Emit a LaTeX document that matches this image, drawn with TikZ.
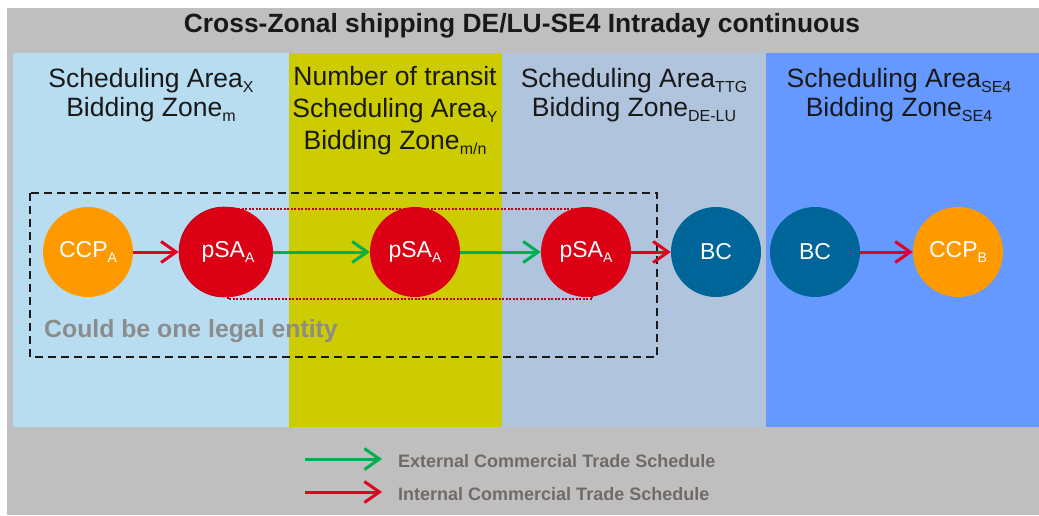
\documentclass[tikz,border=0pt]{standalone}
\usepackage{fontspec}
\setmainfont{Liberation Sans}
\usetikzlibrary{arrows.meta}
\definecolor{bggray}{RGB}{191,191,191}
\definecolor{colA}{RGB}{184,221,240}
\definecolor{colY}{RGB}{204,204,0}
\definecolor{colT}{RGB}{176,196,222}
\definecolor{colS}{RGB}{102,153,255}
\definecolor{corange}{RGB}{255,153,0}
\definecolor{cred}{RGB}{220,0,20}
\definecolor{cdarkred}{RGB}{170,0,15}
\definecolor{cdot}{RGB}{190,0,20}
\definecolor{cbc}{RGB}{0,102,153}
\definecolor{agreen}{RGB}{0,176,80}
\definecolor{ared}{RGB}{224,0,32}
\definecolor{legtext}{RGB}{114,106,102}
\definecolor{titletext}{RGB}{25,25,25}
\newcommand\sbs[1]{\raisebox{-0.22em}{\fontsize{16}{16}\selectfont #1}}
\newcommand\csb[1]{\raisebox{-0.25em}{\fontsize{14}{14}\selectfont #1}}
\tikzset{
  hdr/.style={anchor=base, inner sep=0, text=titletext, font=\fontsize{26.5}{26.5}\selectfont},
  circ/.style={circle, minimum size=90pt, inner sep=0, text=white, font=\fontsize{23}{23}\selectfont},
  ccp/.style={circ, fill=corange},
  psa/.style={circ, fill=cred},
  bc/.style={circ, fill=cbc},
  arr/.style={line width=3pt, -{Straight Barb[length=15pt,width=21pt,line width=3pt]}},
  redarr/.style={arr, draw=ared},
  greenarr/.style={arr, draw=agreen},
  legend/.style={anchor=base west, inner sep=0, text=legtext, font=\bfseries\fontsize{18}{18}\selectfont},
}
\begin{document}
\begin{tikzpicture}[x=1pt,y=-1pt]
\useasboundingbox (0,0) rectangle (1039,515);
\fill[white] (0,0) rectangle (1039,515);
\fill[bggray] (7,8) rectangle (1039,515);
\fill[colA] (13,53) rectangle (289,427);
\fill[colY] (289,53) rectangle (502,427);
\fill[colT] (502,53) rectangle (765,427);
\fill[colS] (766,53) rectangle (1039,427);
% title
\node[anchor=base, inner sep=0, text=titletext, font=\bfseries\fontsize{26.4}{26.4}\selectfont] (title) at (522,32) {Cross-Zonal shipping DE/LU-SE4 Intraday continuous};
% headers
\node[hdr] (h1a) at (151,87) {Scheduling Area\sbs{X}};
\node[hdr] (h1b) at (151,116) {Bidding Zone\sbs{m}};
\node[hdr] (h2a) at (395,85) {Number of transit};
\node[hdr] (h2b) at (395,117) {Scheduling Area\sbs{Y}};
\node[hdr] (h2c) at (395,149) {Bidding Zone\sbs{m/n}};
\node[hdr] (h3a) at (634,87) {Scheduling Area\sbs{TTG}};
\node[hdr] (h3b) at (634,116) {Bidding Zone\sbs{DE-LU}};
\node[hdr] (h4a) at (899,87) {Scheduling Area\sbs{SE4}};
\node[hdr] (h4b) at (899,116) {Bidding Zone\sbs{SE4}};
% group boxes
\draw[black!90, line width=1.5pt, dash pattern=on 8pt off 5pt] (30,193) rectangle (657,357);
\draw[cdot, line width=1.2pt, dash pattern=on 2pt off 1.5pt] (228,209) rectangle (592,299);
\node[anchor=base west, inner sep=0, text=black!45, font=\bfseries\fontsize{24.8}{24.8}\selectfont] (legal) at (44,337) {Could be one legal entity};
% circles
\node[ccp] (ccpa) at (88,252) {CCP\csb{A}};
\node[psa, draw=cdarkred, line width=0.6pt] (psa1s) at (224,252) {};
\node[psa] (psa1) at (228,252) {pSA\csb{A}};
\node[psa] (psa2) at (415,252) {pSA\csb{A}};
\node[psa] (psa3) at (586,252) {pSA\csb{A}};
\node[bc] (bc1) at (716,252) {BC};
\node[bc] (bc2) at (815,252) {BC};
\node[ccp] (ccpb) at (958,252) {CCP\csb{B}};
% connectors
\draw[redarr] (ccpa) -- (psa1s);
\draw[greenarr] (psa1) -- (psa2);
\draw[greenarr] (psa2) -- (psa3);
\draw[redarr] (psa3) -- (bc1);
\draw[redarr] (bc2) -- (ccpb);
% legend
\coordinate (lg1) at (305,459);
\coordinate (lg2) at (382,459);
\coordinate (lr1) at (305,492);
\coordinate (lr2) at (382,492);
\draw[greenarr] (lg1) -- (lg2);
\draw[redarr] (lr1) -- (lr2);
\node[legend] (ext) at (398,467) {External Commercial Trade Schedule};
\node[legend] (int) at (398,500) {Internal Commercial Trade Schedule};
\end{tikzpicture}
\end{document}
